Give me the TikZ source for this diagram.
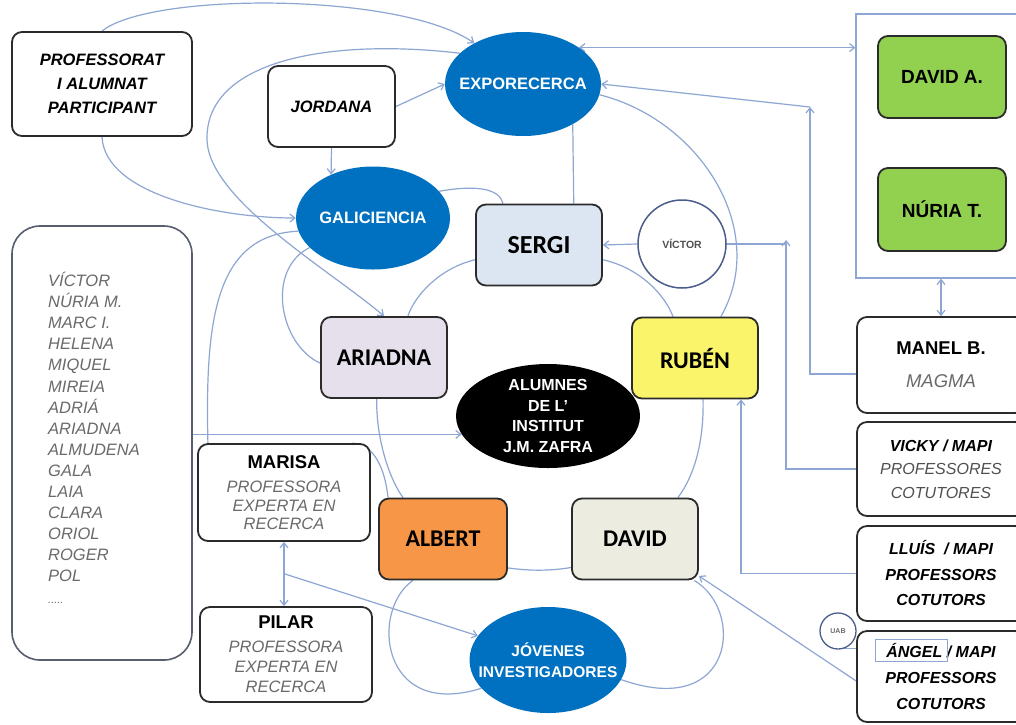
\documentclass[tikz,border=0pt]{standalone}
\usepackage{fontspec}
\setmainfont{Liberation Sans}
\newfontfamily\calfont{Carlito}
\usetikzlibrary{shapes.geometric,arrows.meta,calc}
\definecolor{eblue}{HTML}{0070C0}
\definecolor{lnk}{HTML}{8DA6D3}
\definecolor{boxline}{HTML}{2B2B2B}
\definecolor{listline}{HTML}{565E6E}
\definecolor{cline}{HTML}{4A5D8A}
\definecolor{csergi}{HTML}{DCE6F2}
\definecolor{cariadna}{HTML}{E5E0EC}
\definecolor{cruben}{HTML}{FAF46A}
\definecolor{calbert}{HTML}{F79646}
\definecolor{cdavid}{HTML}{ECEDE0}
\definecolor{cgreen}{HTML}{92D050}
\definecolor{gtext}{HTML}{6A6A6A}
\definecolor{gtextb}{HTML}{505050}
\newcommand\fsz[2]{\fontsize{#1}{#2}\selectfont}
\newcommand\gl[1]{{\itshape\color{gtext}#1}}
\pgfdeclarelayer{bg}
\pgfdeclarelayer{paper}
\pgfsetlayers{paper,bg,main}
\begin{document}
\begin{tikzpicture}[x=1pt,y=-1pt,
  box/.style={draw=boxline, line width=1.8pt, rounded corners=10pt, fill=white, align=center, inner sep=1pt},
  cbox/.style={box, minimum width=126pt, minimum height=81pt, font=\calfont\bfseries\fsz{24}{28}},
  ell/.style={ellipse, fill=eblue, inner sep=0pt},
  etext/.style={text=white, align=center, inner sep=0pt, font=\bfseries\fsz{16.5}{20.5}},
  conn/.style={draw=lnk, line width=1.2pt},
  arr/.style={-{Straight Barb[length=5pt,width=8pt]}},
  darr/.style={{Straight Barb[length=5pt,width=8pt]}-{Straight Barb[length=5pt,width=8pt]}},
]
\begin{pgfonlayer}{paper}
\fill[white] (0,0) rectangle (1016,724);
\end{pgfonlayer}
\useasboundingbox (0,0) rectangle (1016,724);

% left side
\node[box, minimum width=180pt, minimum height=104pt, font=\bfseries\itshape\fsz{16.5}{24}] (prof) at (102,84) {PROFESSORAT\\I ALUMNAT\\PARTICIPANT};
\node[box, minimum width=127pt, minimum height=81pt, font=\bfseries\itshape\fsz{16.5}{20}] (jordana) at (331.5,106.5) {JORDANA};
\node[draw=listline, line width=1.6pt, rounded corners=28pt, minimum width=180pt, minimum height=434pt, inner sep=0pt] (list) at (102,443) {};
\node[anchor=north west, align=left, inner sep=0pt, font=\itshape\fsz{16.5}{21.1}, text=gtext] (names) at (48,272) {VÍCTOR\\NÚRIA M.\\MARC I.\\HELENA\\MIQUEL\\MIREIA\\ADRIÁ\\ARIADNA\\ALMUDENA\\GALA\\LAIA\\CLARA\\ORIOL\\ROGER\\POL\\{\fsz{11}{10}.....}};

% ellipses
\node[ell, minimum width=156pt, minimum height=104pt] (expo) at (523,84) {};
\node[etext] (expotxt) at (expo) {EXPORECERCA};
\node[ell, minimum width=154pt, minimum height=103pt] (gali) at (373,218) {};
\node[etext] (galitxt) at (gali) {GALICIENCIA};
\node[ell, fill=black, minimum width=184pt, minimum height=104pt] (alumnes) at (548,416) {};
\node[etext, font=\bfseries\fsz{16}{20.5}] (alumtxt) at (alumnes) {ALUMNES\\DE L'\\INSTITUT\\J.M. ZAFRA};
\node[ell, minimum width=157pt, minimum height=106pt] (jov) at (548,660) {};
\node[etext, font=\bfseries\fsz{15.5}{21}] (jovtxt) at (jov) {JÓVENES\\INVESTIGADORES};

% central boxes
\node[cbox, fill=csergi, font=\calfont\bfseries\fsz{26}{28}] (sergi) at (539,245) {SERGI};
\node[circle, draw=cline, line width=1.5pt, fill=white, minimum size=88pt, inner sep=0pt, text=gtextb, font=\bfseries\fsz{10.5}{12}] (victor) at (682,244) {VÍCTOR};
\node[cbox, fill=cariadna] (ariadna) at (384,357.5) {ARIADNA};
\node[cbox, fill=cruben] (ruben) at (695,358) {RUBÉN};
\node[cbox, fill=calbert, minimum width=128pt] (albert) at (443,539) {ALBERT};
\node[cbox, fill=cdavid] (david) at (635,539) {DAVID};
\node[box, minimum width=172pt, minimum height=97pt, font=\fsz{16.5}{18.5}] (marisa) at (284,492.5) {{\fsz{18.5}{22}\bfseries MARISA}\\[6pt]\gl{PROFESSORA}\\\gl{EXPERTA EN}\\\gl{RECERCA}};
\node[box, minimum width=172pt, minimum height=95pt, font=\fsz{16.5}{20}] (pilar) at (286,654.5) {{\fsz{18.5}{22}\bfseries PILAR}\\[4pt]\gl{PROFESSORA}\\\gl{EXPERTA EN}\\\gl{RECERCA}};

% right side
\node[draw=lnk, line width=1.2pt, minimum width=174pt, minimum height=264pt, inner sep=0pt] (frame) at (943,146) {};
\node[box, fill=cgreen, minimum width=128pt, minimum height=82pt, font=\bfseries\fsz{19}{22}] (davida) at (942,77) {DAVID A.};
\node[box, fill=cgreen, minimum width=128pt, minimum height=83pt, font=\bfseries\fsz{19}{22}] (nuriat) at (942,209.5) {NÚRIA T.};
\node[box, minimum width=168pt, minimum height=96pt, font=\fsz{18.5}{33}] (manel) at (941,365) {\textbf{MANEL B.}\\\textit{\color{gtext}MAGMA}};
\node[box, minimum width=168pt, minimum height=94pt, font=\fsz{16}{23.5}] (vicky) at (941,469) {\textbf{\textit{VICKY / MAPI}}\\\textit{\color{gtextb}PROFESSORES}\\\textit{\color{gtextb}COTUTORES}};
\node[box, minimum width=168pt, minimum height=95pt, font=\bfseries\itshape\fsz{16}{25.5}] (lluis) at (941,573.5) {LLUÍS \ / MAPI\\PROFESSORS\\COTUTORS};
\node[box, minimum width=168pt, minimum height=91pt, font=\bfseries\itshape\fsz{16}{26}] (angel) at (941,676.5) {ÁNGEL / MAPI\\PROFESSORS\\COTUTORS};
\node[draw=lnk, line width=1pt, minimum width=72pt, minimum height=22pt, inner sep=0pt] (angrect) at (911,650) {};
\node[circle, draw=cline, line width=1.3pt, fill=white, minimum size=36pt, inner sep=0pt, text=gtext, font=\bfseries\fsz{7}{8}] (uab) at (838,631) {UAB};

\begin{pgfonlayer}{bg}
\draw[conn,arr] (prof.north) .. controls (150,-8) and (400,-8) .. (expo.140);
\draw[conn,arr] (prof.south) .. controls (105,195) and (220,218) .. (gali.west);
\draw[conn,arr] (jordana.east) -- (expo.west);
\draw[conn,arr] (jordana.south) -- (gali.134);
\draw[conn,arr] (expo.154) .. controls (330,38) and (205,60) .. (207,140) .. controls (209,200) and (330,270) .. (ariadna.north);
\draw[conn] (gali.22) .. controls (480,184) and (500,190) .. (sergi.131);
\draw[conn] (sergi.50) -- (expo.-39);
\draw[conn,arr] (victor.west) -- (sergi.east);
\coordinate (cv) at (786,240);
\draw[conn,arr] (vicky.west) -| (cv);
\draw[conn] (victor.east) -- (victor.east -| cv);
\coordinate (cm) at (810,107);
\draw[conn,arr] (manel.186) -| (cm);
\draw[conn,arr] (cm) -- (expo.east);
\draw[conn,arr] (lluis.west) -| (ruben.-42);
\draw[conn,darr] (expo.33) -- (expo.33 -| frame.west);
\draw[conn,darr] (manel.north) -- (manel.north |- frame.south);
\draw[conn] (expo.-8) .. controls (700,120) and (770,230) .. (ruben.58);
\draw[conn] (sergi.193) .. controls (440,268) and (415,295) .. (ariadna.60);
\draw[conn] (sergi.-13) .. controls (640,268) and (665,295) .. (ruben.118);
\draw[conn] (ariadna.-100) .. controls (376,440) and (390,480) .. (albert.134);
\draw[conn] (ruben.-79) .. controls (704,440) and (695,475) .. (david.44);
\draw[conn] (albert.-24) .. controls (530,571) and (550,571) .. (david.-156);
\draw[conn] (albert.-126) .. controls (370,610) and (380,720) .. (jov.203);
\draw[conn] (david.-35) .. controls (745,610) and (735,720) .. (jov.-15);
\draw[conn,arr] (list.east |- alumnes.192) -- (alumnes.192);
\draw[conn,darr] (marisa.south) -- (marisa.south |- pilar.north);
\coordinate (mp) at (285,574);
\draw[conn,arr] (mp) -- (jov.161);
\draw[conn,arr] (angel.183) -- (david.-30);
\draw[conn] (uab.-70) -- (uab.-70 -| angrect.west);
\draw[conn] (marisa.36) .. controls (375,444) and (385,470) .. (albert.143);
\draw[conn] (marisa.147) .. controls (205,320) and (215,235) .. (gali.190);
\draw[conn] (ariadna.185) .. controls (280,345) and (265,270) .. (gali.205);
\end{pgfonlayer}
\end{tikzpicture}
\end{document}
